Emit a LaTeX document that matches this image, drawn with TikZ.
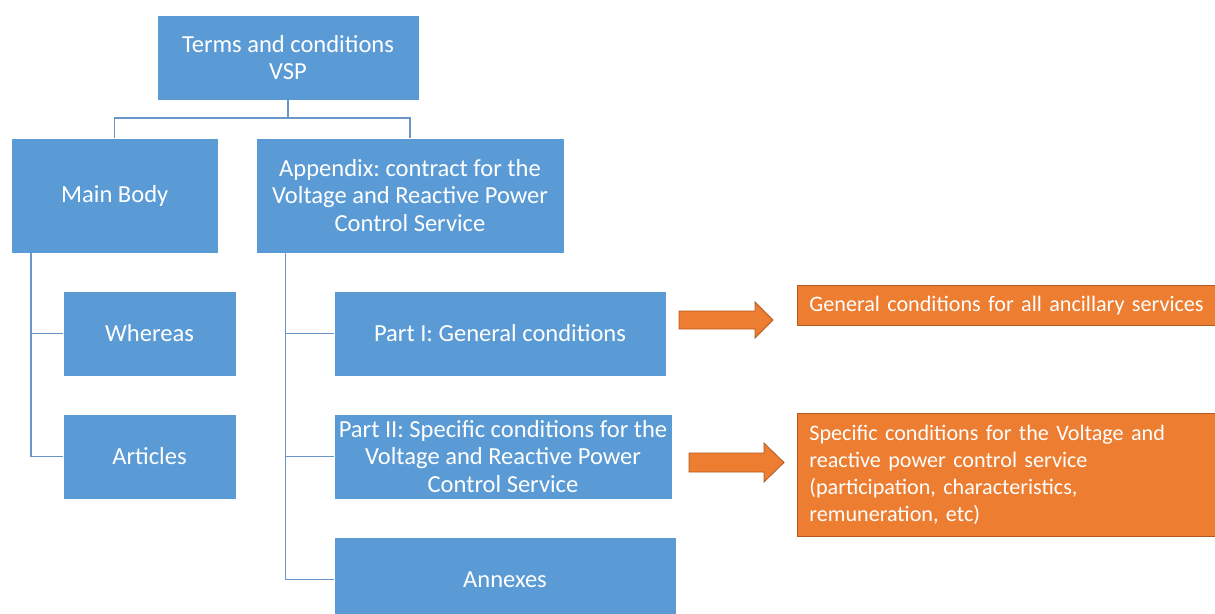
\documentclass[tikz,border=0pt]{standalone}
\usepackage{fontspec}
\setmainfont{Carlito}
\frenchspacing
\definecolor{boxblue}{RGB}{91,155,213}
\definecolor{lineblue}{RGB}{104,150,200}
\definecolor{boxorange}{RGB}{237,125,49}
\definecolor{edgeorange}{RGB}{174,90,33}
\newdimen\unitpx
\unitpx=0.75pt
\tikzset{
    bluebox/.style 2 args={draw=white, line width=0.6pt, fill=boxblue, text=white,
        align=center, inner sep=0pt, minimum width=#1\unitpx, minimum height=#2\unitpx,
        font=\fontsize{18.4}{20.6}\selectfont},
    orangebox/.style 2 args={draw=edgeorange, line width=0.6pt, fill=boxorange, text=white,
        align=left, anchor=west, inner xsep=12\unitpx, inner ysep=0pt,
        text width=#1\unitpx-24\unitpx, minimum height=#2\unitpx,
        font=\fontsize{16.6}{20.3}\selectfont},
    link/.style={draw=lineblue, line width=1pt},
    blockarrow/.style={draw=edgeorange, line width=0.6pt, fill=boxorange, line join=miter}
}
\begin{document}
\begin{tikzpicture}[x=0.75pt, y=-0.75pt]
    \useasboundingbox (0,0) rectangle (1215,614);
    % Top of the tree
    \node[bluebox={262}{85}] (vsp) at (288,57.5) {Terms and conditions\\VSP};
    \node[bluebox={206.5}{115}] (mainbody) at (114.75,195.5) {Main Body};
    \node[bluebox={308}{115}] (appendix) at (410,195.5)
        {Appendix: contract for the\\Voltage and Reactive Power\\Control Service};
    % Children of the main body
    \node[bluebox={173}{85}] (whereas) at (149.5,333.5) {Whereas};
    \node[bluebox={173}{85}] (articles) at (149.5,456.5) {Articles};
    % Children of the appendix
    \node[bluebox={332}{85}] (part1) at (500,333.5) {Part I: General conditions};
    \node[bluebox={338}{85}] (part2) at (503,456.5)
        {Part II: Specific conditions for the\\Voltage and Reactive Power\\Control Service};
    \node[bluebox={342}{85}] (annexes) at (505,579.5) {Annexes};
    % Notes on the right
    \node[orangebox={425}{40}] (general) at (797,305.5) {General conditions for all ancillary services};
    \node[orangebox={425}{123}] (specific) at (797,474.5)
        {Specific conditions for the Voltage and\\reactive power control service\\(participation, characteristics,\\remuneration, etc)};

    % Tree lines
    \coordinate (split) at (288,118);
    \draw[link] (vsp.south) -- (split);
    \draw[link] (split) -| (mainbody.north);
    \draw[link] (split) -| (appendix.north);
    \coordinate (mbtrunk) at ([xshift=20\unitpx]mainbody.south west);
    \draw[link] (mbtrunk) |- (whereas.west);
    \draw[link] (mbtrunk) |- (articles.west);
    \coordinate (aptrunk) at ([xshift=30\unitpx]appendix.south west);
    \draw[link] (aptrunk) |- (part1.west);
    \draw[link] (aptrunk) |- (part2.west);
    \draw[link] (aptrunk) |- (annexes.west);

    % Block arrows
    \filldraw[blockarrow] (679,311) -- ++(76,0) -- ++(0,-9) -- ++(18,18)
        -- ++(-18,18) -- ++(0,-9) -- ++(-76,0) -- cycle;
    \filldraw[blockarrow] (689,453) -- ++(75,0) -- ++(0,-10) -- ++(20,19.5)
        -- ++(-20,19.5) -- ++(0,-10) -- ++(-75,0) -- cycle;
\end{tikzpicture}
\end{document}
